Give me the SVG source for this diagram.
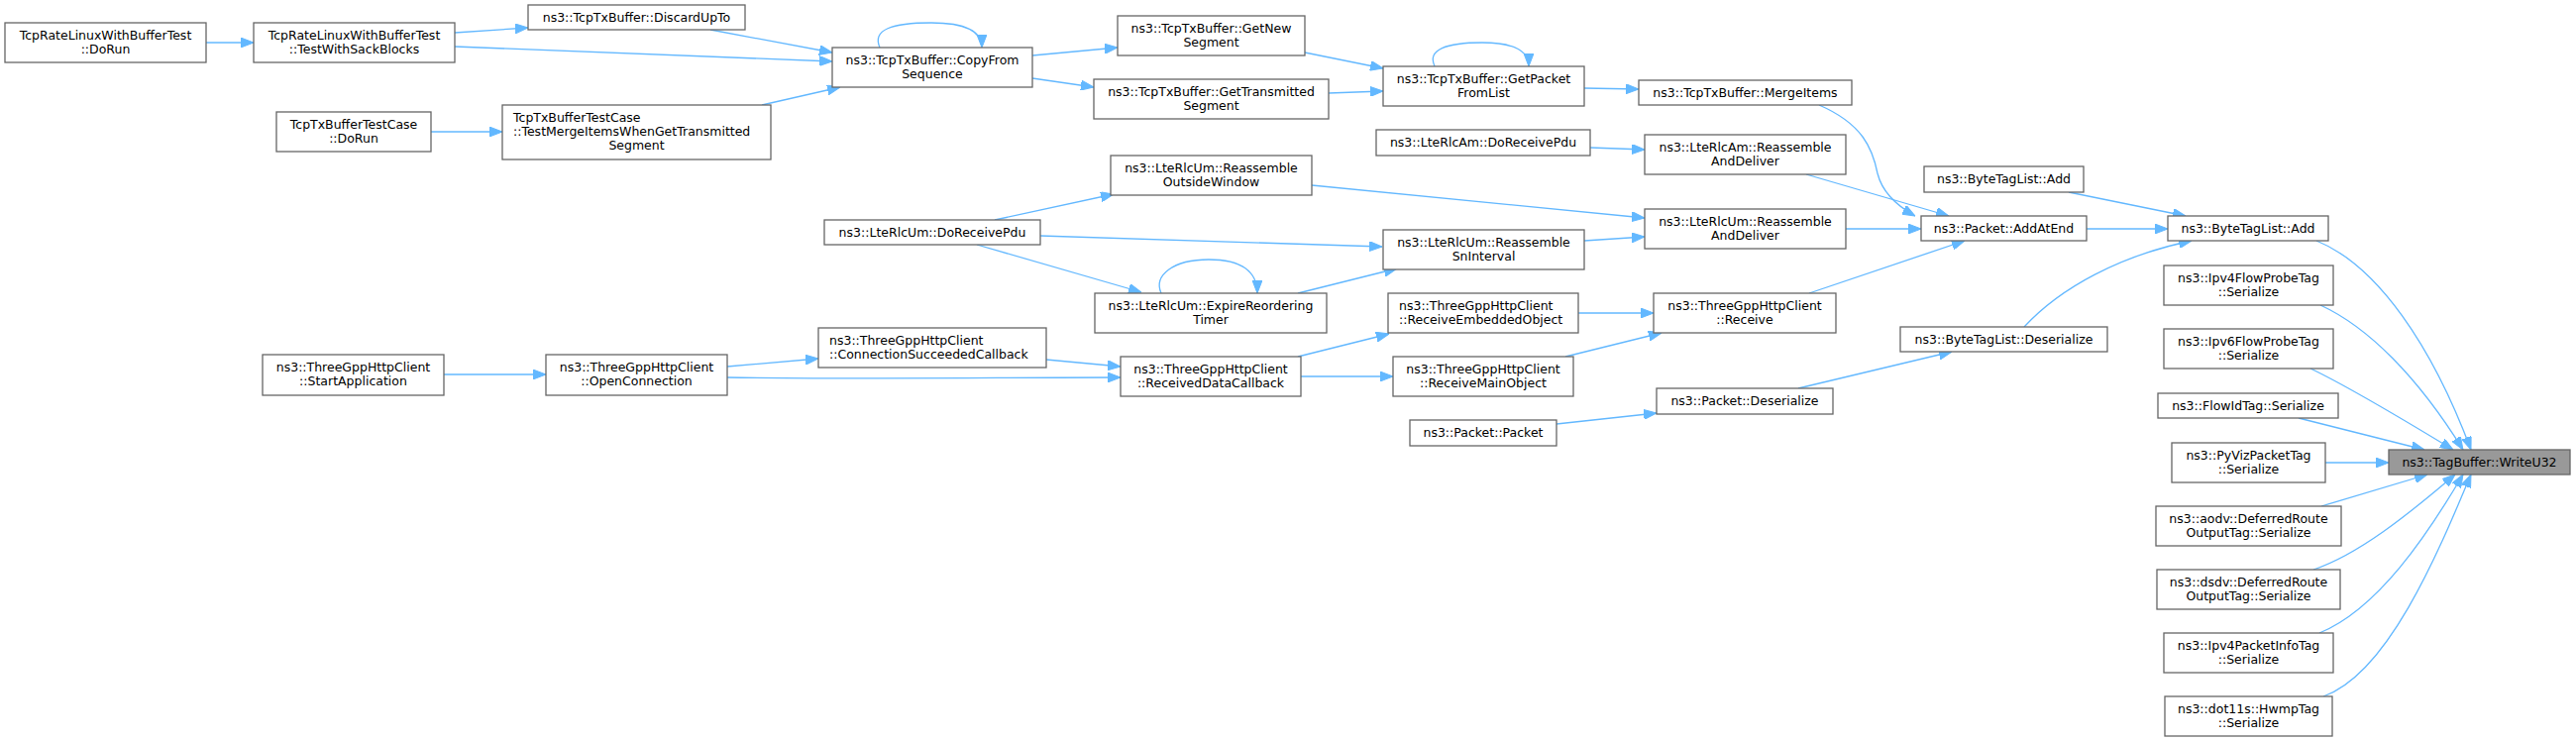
<svg xmlns="http://www.w3.org/2000/svg" width="2600" height="748" viewBox="0 0 2600 748">
<style>
.n rect{fill:#ffffff;stroke:#666666;stroke-width:1.3}
.n.cur rect{fill:#999999}
.n text{font-family:"DejaVu Sans","Liberation Sans",sans-serif;font-size:12.5px;fill:#000000;text-anchor:middle}
.n text.l{text-anchor:start}
#edges path{fill:none;stroke:#63b8ff;stroke-width:1.3;marker-end:url(#ah)}
</style>
<defs>
<marker id="ah" markerUnits="userSpaceOnUse" markerWidth="13" markerHeight="10" viewBox="0 0 13 10" refX="13" refY="5" orient="auto">
<path d="M0,0 L13,5 L0,10 z" fill="#63b8ff" stroke="#63b8ff" stroke-width="1"/>
</marker>
</defs>
<rect x="0" y="0" width="2600" height="748" fill="#ffffff"/>
<g id="edges">
<path d="M208,43 L256,43"/>
<path d="M459,33 L533,28"/>
<path d="M459,47 C600,52 720,57 840,62"/>
<path d="M717,30 L840,53"/>
<path d="M769,106 L848,88"/>
<path d="M435,133 L507,133"/>
<path d="M888,48 C880,30 900,23 940,23 C975,23 991,32 991,48"/>
<path d="M1042,56 L1128,48"/>
<path d="M1042,79 L1104,88"/>
<path d="M1317,53 L1396,69"/>
<path d="M1341,94 L1396,92"/>
<path d="M1448,67 C1440,50 1460,43 1496,43 C1528,43 1543,52 1543,67"/>
<path d="M1599,89 L1654,90"/>
<path d="M1605,149 L1660,151"/>
<path d="M1004,222 L1124,196"/>
<path d="M1050,238 L1395,249"/>
<path d="M986,247 L1152,295"/>
<path d="M1172,296 C1164,278 1184,262 1220,262 C1254,262 1269,275 1269,296"/>
<path d="M1310,296 L1410,271"/>
<path d="M1324,187 L1660,220"/>
<path d="M1599,243 L1660,239"/>
<path d="M448,378 L551,378"/>
<path d="M734,370 L826,362"/>
<path d="M734,381 C900,383 1000,381 1131,381"/>
<path d="M1056,363 L1131,370"/>
<path d="M1310,360 L1402,337"/>
<path d="M1313,380 L1406,380"/>
<path d="M1593,316 L1669,316"/>
<path d="M1580,360 L1677,336"/>
<path d="M1571,428 L1672,417"/>
<path d="M1836,106 C1880,125 1890,150 1895,175 C1900,195 1915,208 1933,218"/>
<path d="M1823,176 L1967,218"/>
<path d="M1863,231 L1939,231"/>
<path d="M1826,296 L1983,243"/>
<path d="M2088,194 L2206,218"/>
<path d="M2106,231 L2188,231"/>
<path d="M2043,330 C2080,290 2140,258 2212,243"/>
<path d="M1815,392 L1970,355"/>
<path d="M2338,243 C2400,268 2455,350 2494,454"/>
<path d="M2342,308 C2390,330 2440,380 2486,454"/>
<path d="M2332,372 C2370,390 2420,420 2476,454"/>
<path d="M2320,422 L2447,454"/>
<path d="M2347,467 L2411,467"/>
<path d="M2343,511 L2450,479"/>
<path d="M2335,575 C2380,560 2430,520 2478,479"/>
<path d="M2341,639 C2400,615 2450,540 2486,479"/>
<path d="M2345,703 C2410,680 2460,560 2494,479"/>
</g>
<g id="n1" class="n"><rect x="5" y="23" width="203" height="40"/><text x="106.5" y="40">TcpRateLinuxWithBufferTest</text><text x="106.5" y="54">::DoRun</text></g>
<g id="n2" class="n"><rect x="256" y="23" width="203" height="40"/><text x="357.5" y="40">TcpRateLinuxWithBufferTest</text><text x="357.5" y="54">::TestWithSackBlocks</text></g>
<g id="n3" class="n"><rect x="533" y="5" width="219" height="25"/><text x="642.5" y="22">ns3::TcpTxBuffer::DiscardUpTo</text></g>
<g id="n4" class="n"><rect x="279" y="113" width="156" height="40"/><text x="357" y="130">TcpTxBufferTestCase</text><text x="357" y="144">::DoRun</text></g>
<g id="n5" class="n"><rect x="507" y="106" width="271" height="55"/><text class="l" x="518" y="123">TcpTxBufferTestCase</text><text class="l" x="518" y="137">::TestMergeItemsWhenGetTransmitted</text><text x="642.5" y="151">Segment</text></g>
<g id="n6" class="n"><rect x="840" y="48" width="202" height="40"/><text x="941" y="65">ns3::TcpTxBuffer::CopyFrom</text><text x="941" y="79">Sequence</text></g>
<g id="n7" class="n"><rect x="1128" y="16" width="189" height="40"/><text x="1222.5" y="33">ns3::TcpTxBuffer::GetNew</text><text x="1222.5" y="47">Segment</text></g>
<g id="n8" class="n"><rect x="1104" y="80" width="237" height="40"/><text x="1222.5" y="97">ns3::TcpTxBuffer::GetTransmitted</text><text x="1222.5" y="111">Segment</text></g>
<g id="n9" class="n"><rect x="1396" y="67" width="203" height="40"/><text x="1497.5" y="84">ns3::TcpTxBuffer::GetPacket</text><text x="1497.5" y="98">FromList</text></g>
<g id="n10" class="n"><rect x="1654" y="81" width="215" height="25"/><text x="1761.5" y="98">ns3::TcpTxBuffer::MergeItems</text></g>
<g id="n11" class="n"><rect x="1389" y="131" width="216" height="26"/><text x="1497" y="148">ns3::LteRlcAm::DoReceivePdu</text></g>
<g id="n12" class="n"><rect x="1660" y="136" width="203" height="40"/><text x="1761.5" y="153">ns3::LteRlcAm::Reassemble</text><text x="1761.5" y="167">AndDeliver</text></g>
<g id="n13" class="n"><rect x="1121" y="157" width="203" height="40"/><text x="1222.5" y="174">ns3::LteRlcUm::Reassemble</text><text x="1222.5" y="188">OutsideWindow</text></g>
<g id="n14" class="n"><rect x="832" y="222" width="218" height="25"/><text x="941" y="239">ns3::LteRlcUm::DoReceivePdu</text></g>
<g id="n15" class="n"><rect x="1396" y="232" width="203" height="40"/><text x="1497.5" y="249">ns3::LteRlcUm::Reassemble</text><text x="1497.5" y="263">SnInterval</text></g>
<g id="n16" class="n"><rect x="1660" y="211" width="203" height="40"/><text x="1761.5" y="228">ns3::LteRlcUm::Reassemble</text><text x="1761.5" y="242">AndDeliver</text></g>
<g id="n17" class="n"><rect x="1105" y="296" width="234" height="40"/><text x="1222" y="313">ns3::LteRlcUm::ExpireReordering</text><text x="1222" y="327">Timer</text></g>
<g id="n18" class="n"><rect x="265" y="358" width="183" height="41"/><text x="356.5" y="375">ns3::ThreeGppHttpClient</text><text x="356.5" y="389">::StartApplication</text></g>
<g id="n19" class="n"><rect x="551" y="358" width="183" height="41"/><text x="642.5" y="375">ns3::ThreeGppHttpClient</text><text x="642.5" y="389">::OpenConnection</text></g>
<g id="n20" class="n"><rect x="826" y="331" width="230" height="40"/><text class="l" x="837" y="348">ns3::ThreeGppHttpClient</text><text class="l" x="837" y="362">::ConnectionSucceededCallback</text></g>
<g id="n21" class="n"><rect x="1131" y="360" width="182" height="40"/><text x="1222" y="377">ns3::ThreeGppHttpClient</text><text x="1222" y="391">::ReceivedDataCallback</text></g>
<g id="n22" class="n"><rect x="1401" y="296" width="192" height="40"/><text class="l" x="1412" y="313">ns3::ThreeGppHttpClient</text><text class="l" x="1412" y="327">::ReceiveEmbeddedObject</text></g>
<g id="n23" class="n"><rect x="1406" y="360" width="182" height="40"/><text x="1497" y="377">ns3::ThreeGppHttpClient</text><text x="1497" y="391">::ReceiveMainObject</text></g>
<g id="n24" class="n"><rect x="1669" y="296" width="184" height="40"/><text x="1761" y="313">ns3::ThreeGppHttpClient</text><text x="1761" y="327">::Receive</text></g>
<g id="n25" class="n"><rect x="1672" y="392" width="178" height="26"/><text x="1761" y="409">ns3::Packet::Deserialize</text></g>
<g id="n26" class="n"><rect x="1423" y="424" width="148" height="26"/><text x="1497" y="441">ns3::Packet::Packet</text></g>
<g id="n27" class="n"><rect x="1939" y="218" width="167" height="25"/><text x="2022.5" y="235">ns3::Packet::AddAtEnd</text></g>
<g id="n28" class="n"><rect x="1942" y="168" width="161" height="26"/><text x="2022.5" y="185">ns3::ByteTagList::Add</text></g>
<g id="n29" class="n"><rect x="1918" y="330" width="209" height="25"/><text x="2022.5" y="347">ns3::ByteTagList::Deserialize</text></g>
<g id="n30" class="n"><rect x="2188" y="218" width="162" height="25"/><text x="2269" y="235">ns3::ByteTagList::Add</text></g>
<g id="n31" class="n"><rect x="2184" y="268" width="171" height="40"/><text x="2269.5" y="285">ns3::Ipv4FlowProbeTag</text><text x="2269.5" y="299">::Serialize</text></g>
<g id="n32" class="n"><rect x="2184" y="332" width="171" height="40"/><text x="2269.5" y="349">ns3::Ipv6FlowProbeTag</text><text x="2269.5" y="363">::Serialize</text></g>
<g id="n33" class="n"><rect x="2178" y="397" width="182" height="25"/><text x="2269" y="414">ns3::FlowIdTag::Serialize</text></g>
<g id="n34" class="n"><rect x="2192" y="447" width="155" height="40"/><text x="2269.5" y="464">ns3::PyVizPacketTag</text><text x="2269.5" y="478">::Serialize</text></g>
<g id="n35" class="n"><rect x="2176" y="511" width="187" height="40"/><text x="2269.5" y="528">ns3::aodv::DeferredRoute</text><text x="2269.5" y="542">OutputTag::Serialize</text></g>
<g id="n36" class="n"><rect x="2177" y="575" width="185" height="40"/><text x="2269.5" y="592">ns3::dsdv::DeferredRoute</text><text x="2269.5" y="606">OutputTag::Serialize</text></g>
<g id="n37" class="n"><rect x="2184" y="639" width="171" height="40"/><text x="2269.5" y="656">ns3::Ipv4PacketInfoTag</text><text x="2269.5" y="670">::Serialize</text></g>
<g id="n38" class="n"><rect x="2185" y="703" width="169" height="40"/><text x="2269.5" y="720">ns3::dot11s::HwmpTag</text><text x="2269.5" y="734">::Serialize</text></g>
<g id="n39" class="n cur"><rect x="2411" y="454" width="183" height="25"/><text x="2502.5" y="471">ns3::TagBuffer::WriteU32</text></g>
</svg>
